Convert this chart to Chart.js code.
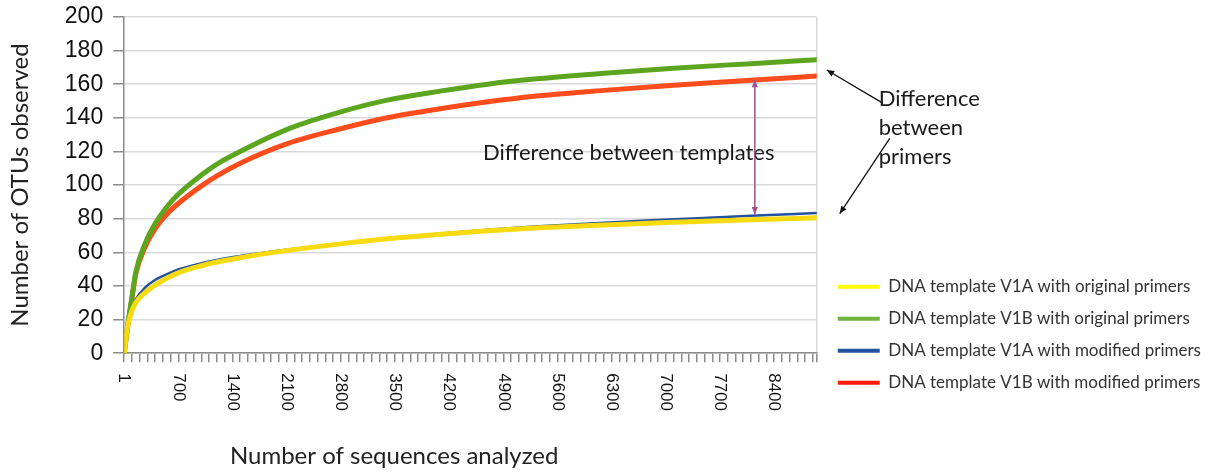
<!DOCTYPE html>
<html>
<head>
<meta charset="utf-8">
<script src="https://cdn.jsdelivr.net/npm/chart.js@4.4.1/dist/chart.umd.min.js"></script>
<style>
  html, body { margin: 0; padding: 0; background: #fff; }
  #wrap { width: 1217px; height: 472px; }
</style>
</head>
<body>
<div id="wrap"><canvas id="otu-chart"></canvas></div>
<script>
// sequences analysed (x) at which the curves were read
const seqs = [1, 50, 100, 150, 270, 400, 570, 700, 1000, 1200, 1500, 2100, 2800, 3400, 4100, 4700, 5300, 6200, 7100, 8100, 8950];

const v1aOriginal = [0, 17, 25, 30, 36, 40.5, 45, 47.8, 52, 54.2, 56.8, 61, 65, 68, 70.8, 72.8, 74.5, 76.3, 77.8, 79.3, 80.5];
const v1bOriginal = [0, 18, 33, 48, 65, 77, 88, 94.5, 106, 112.5, 120, 133, 143.5, 150.5, 156, 160, 163, 166.5, 169.5, 172.2, 174.5];
const v1aModified = [0, 20, 27, 32, 39, 43.5, 47.3, 49.8, 53.5, 55.5, 57.8, 61.5, 65.3, 68.3, 71.2, 73.4, 75.3, 77.6, 79.6, 81.8, 83.3];
const v1bModified = [0, 17, 32, 47, 63, 74, 83.5, 89, 99.5, 105.5, 113, 124.5, 133.5, 140, 145.5, 149.5, 152.8, 156.3, 159.3, 162.3, 164.8];

const seriesNames = [
    'DNA template V1A with original primers',
    'DNA template V1B with original primers',
    'DNA template V1A with modified primers',
    'DNA template V1B with modified primers',
];

const xMin = 1;
const xMax = 8950;
const xStep = 100;
const xLabelStep = 700;
const yTicks = [0, 20, 40, 60, 80, 100, 120, 140, 160, 180, 200];

const xTitle = 'Number of sequences analyzed';
const yTitle = 'Number of OTUs observed';
const templateNote = 'Difference between templates';
const primerNote = ['Difference', 'between', 'primers'];

const toPoints = (ys) => seqs.map((x, i) => ({ x, y: ys[i] }));

const axisGrey = '#8c8c8c';
const gridGrey = '#d9d9d9';
const calibri = "'Lato', 'Carlito', sans-serif";
const arial = "'Liberation Sans', Arial, sans-serif";

function arrowHead(ctx, x1, y1, x2, y2, size) {
    const a = Math.atan2(y2 - y1, x2 - x1);
    ctx.beginPath();
    ctx.moveTo(x2, y2);
    ctx.lineTo(x2 - size * Math.cos(a - 0.4), y2 - size * Math.sin(a - 0.4));
    ctx.lineTo(x2 - size * Math.cos(a + 0.4), y2 - size * Math.sin(a + 0.4));
    ctx.closePath();
    ctx.fill();
}

function arrow(ctx, x1, y1, x2, y2, both) {
    ctx.beginPath();
    ctx.moveTo(x1, y1);
    ctx.lineTo(x2, y2);
    ctx.stroke();
    arrowHead(ctx, x1, y1, x2, y2, 8);
    if (both) arrowHead(ctx, x2, y2, x1, y1, 8);
}

// x tick labels read top-to-bottom (Chart.js only rotates the other way),
// and the x title sits left of centre, so both are drawn here
const xAxisTextPlugin = {
    id: 'xAxisText',
    afterDraw(chart) {
        const sx = chart.scales.x;
        const ctx = chart.ctx;
        ctx.save();
        ctx.font = '17px ' + arial;
        ctx.fillStyle = '#111';
        ctx.textAlign = 'left';
        ctx.textBaseline = 'middle';
        sx.ticks.forEach((t) => {
            if (!t.label) return;
            const px = sx.getPixelForValue(t.value);
            ctx.save();
            ctx.translate(px, sx.top + 9 + 11);
            ctx.rotate(Math.PI / 2);
            ctx.fillText(t.label, 0, 0);
            ctx.restore();
        });

        ctx.font = '24px ' + calibri;
        ctx.fillStyle = '#222';
        ctx.textAlign = 'center';
        ctx.fillText(xTitle, sx.getPixelForValue(3490), 456);
        ctx.restore();
    },
};

const notesPlugin = {
    id: 'notes',
    afterDraw(chart) {
        const { ctx, chartArea } = chart;
        const sx = chart.scales.x;
        const sy = chart.scales.y;
        ctx.save();

        // template arrow and its text
        ctx.fillStyle = '#1a1a1a';
        ctx.font = '22px ' + calibri;
        ctx.textBaseline = 'middle';
        ctx.fillText(templateNote, sx.getPixelForValue(4636), sy.getPixelForValue(119.4));

        ctx.strokeStyle = '#a0508c';
        ctx.fillStyle = '#a0508c';
        ctx.lineWidth = 1.5;
        const ax = sx.getPixelForValue(8150);
        arrow(ctx, ax, sy.getPixelForValue(162.5), ax, sy.getPixelForValue(82.5), true);

        // primer arrows
        ctx.strokeStyle = '#111';
        ctx.fillStyle = '#111';
        ctx.lineWidth = 1.3;
        const r = chartArea.right;
        arrow(ctx, r + 66, sy.getPixelForValue(148.7), r + 10, sy.getPixelForValue(168.4), false);
        arrow(ctx, r + 73, sy.getPixelForValue(127.8), r + 23, sy.getPixelForValue(83), false);

        ctx.fillStyle = '#1a1a1a';
        ctx.font = '22px ' + calibri;
        primerNote.forEach((line, i) => {
            ctx.fillText(line, r + 62, sy.getPixelForValue(151) + i * 29);
        });
        ctx.restore();
    },
};

// push the legend down beside the lower half of the plot and let it use
// the whole right margin (the layout caps its width)
const legendShift = {
    id: 'legendShift',
    afterLayout(chart) {
        const lg = chart.legend;
        if (!lg) return;
        lg.top += 53;
        lg.bottom += 53;
        lg.left += 6;
        lg.right = chart.width;
        lg.width = lg.right - lg.left;
    },
};

const canvas = document.getElementById('otu-chart');

new Chart(canvas, {
    type: 'line',
    data: {
        datasets: [
            {
                label: seriesNames[0],
                data: toPoints(v1aOriginal),
                borderColor: '#f8da10',
                backgroundColor: '#ffff00',
                borderWidth: 5,
            },
            {
                label: seriesNames[1],
                data: toPoints(v1bOriginal),
                borderColor: '#5ba61e',
                backgroundColor: '#6fb33a',
                borderWidth: 5,
            },
            {
                label: seriesNames[2],
                data: toPoints(v1aModified),
                borderColor: '#2352a0',
                backgroundColor: '#2352a0',
                borderWidth: 2.5,
            },
            {
                label: seriesNames[3],
                data: toPoints(v1bModified),
                borderColor: '#ff4c1c',
                backgroundColor: '#ff1a0a',
                borderWidth: 5,
            },
        ],
    },
    options: {
        responsive: true,
        maintainAspectRatio: false,
        animation: false,
        layout: { padding: { top: 0, right: 130, bottom: 52, left: 6 } },
        elements: {
            point: { radius: 0 },
            line: { cubicInterpolationMode: 'monotone', borderCapStyle: 'round' },
        },
        plugins: {
            tooltip: { enabled: false },
            legend: {
                position: 'right',
                align: 'end',
                fullSize: false,
                labels: {
                    color: '#333',
                    font: { family: calibri, size: 17 },
                    boxWidth: 42,
                    boxHeight: 4,
                    padding: 15,
                    generateLabels: (chart) => chart.data.datasets.map((ds, i) => ({
                        text: ds.label,
                        fillStyle: ds.backgroundColor,
                        strokeStyle: ds.backgroundColor,
                        lineWidth: 0,
                        fontColor: '#333',
                        hidden: false,
                        datasetIndex: i,
                    })),
                },
            },
        },
        scales: {
            x: {
                type: 'linear',
                min: xMin,
                max: xMax,
                afterBuildTicks: (scale) => {
                    const t = [{ value: xMin }];
                    for (let v = xStep; v < xMax; v += xStep) t.push({ value: v });
                    t.push({ value: xMax });
                    scale.ticks = t;
                },
                ticks: {
                    autoSkip: false,
                    minRotation: 90,
                    maxRotation: 90,
                    padding: 10,
                    color: 'rgba(0,0,0,0)',
                    font: { family: arial, size: 17 },
                    callback: (v) => (v === xMin || (v % xLabelStep === 0 && v < xMax)) ? String(v) : '',
                },
                grid: {
                    drawOnChartArea: true,
                    color: (c) => (c.tick && c.tick.value === xMax ? gridGrey : 'rgba(0,0,0,0)'),
                    tickColor: axisGrey,
                    tickLength: 9,
                    lineWidth: 1.5,
                },
                border: { color: axisGrey, width: 1.5 },
            },
            y: {
                min: 0,
                max: 200,
                afterBuildTicks: (scale) => { scale.ticks = yTicks.map((value) => ({ value })); },
                ticks: {
                    color: '#111',
                    padding: 10,
                    font: { family: arial, size: 23, lineHeight: 0.6 },
                },
                grid: {
                    color: gridGrey,
                    tickColor: axisGrey,
                    tickLength: 11,
                    lineWidth: 1.5,
                },
                border: { color: axisGrey, width: 1.5 },
                title: {
                    display: true,
                    text: yTitle,
                    color: '#222',
                    font: { family: calibri, size: 24 },
                    padding: { top: 0, bottom: 20 },
                },
            },
        },
    },
    plugins: [xAxisTextPlugin, notesPlugin, legendShift],
});
</script>
</body>
</html>
